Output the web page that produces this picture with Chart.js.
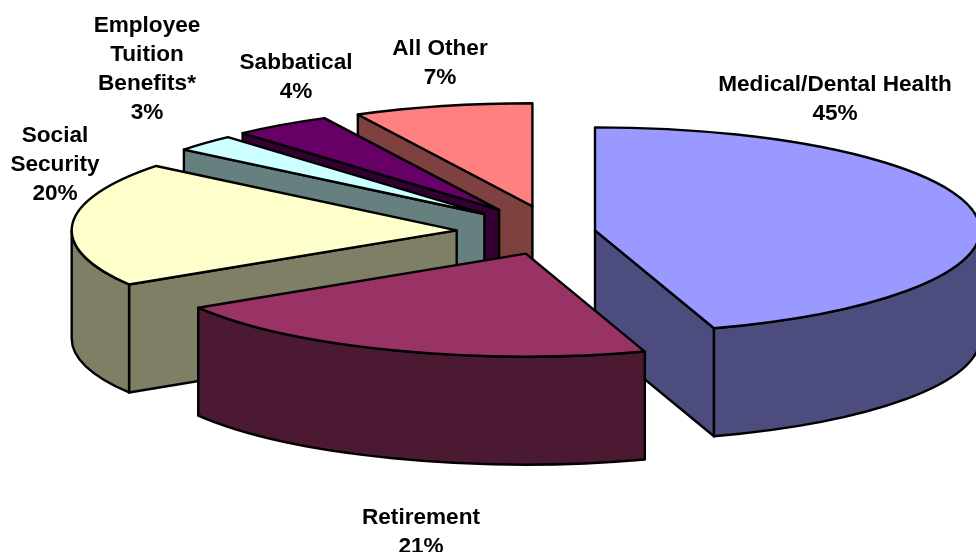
<!DOCTYPE html>
<html><head><meta charset="utf-8">
<script src="https://cdn.jsdelivr.net/npm/chart.js@4"></script>
<style>html,body{margin:0;padding:0;background:#fff}canvas{display:block}</style>
</head><body><canvas id="c" width="976" height="552"></canvas>
<script>
const categories = ["Medical/Dental Health","Retirement","Social Security","Employee Tuition Benefits*","Sabbatical","All Other"];
const shares = [45,21.2,19.55,2.65,4.11,7.49];
const sliceColors = ["#9999FF","#993366","#FFFFCC","#CCFFFF","#660066","#FF8080"];
const explosion = [40,86,99,98,100,99];
const paintOrder = [5,4,3,2,0,1];
const labelLines = [["Medical/Dental Health","45%"],["Retirement","21%"],["Social","Security","20%"],["Employee","Tuition","Benefits*","3%"],["Sabbatical","4%"],["All Other","7%"]];
const labelAnchors = [[835,85],[421,518],[55,136],[147,26],[296,63],[440,49]];
const FLAT_RADIUS = 103, WIDE_RADIUS = 385, WALL = 108, LINE_H = 29;
const sx = WIDE_RADIUS / FLAT_RADIUS;
const half = c => { const n = parseInt(c.slice(1),16); return `rgb(${(n>>16)>>1},${((n>>8)&255)>>1},${(n&255)>>1})`; };
const pie3d = {
  id:'pie3d',
  beforeDatasetsDraw(chart){
    const ctx = chart.ctx, arcs = chart.getDatasetMeta(0).data;
    ctx.save();
    ctx.lineJoin='round'; ctx.strokeStyle='#000'; ctx.lineWidth=2.4;
    const paint = fill => { ctx.fillStyle=fill; ctx.fill(); ctx.stroke(); };
    for(const i of paintOrder){
      const el = arcs[i];
      const {x,y,startAngle:a0,endAngle:a1,outerRadius:r} = el.getProps(['x','y','startAngle','endAngle','outerRadius'],true);
      const mid=(a0+a1)/2, d=explosion[i];
      const px=x+Math.cos(mid)*d, py=y+Math.sin(mid)*d/sx;
      const R=r*sx;
      const pt=a=>[px+Math.cos(a)*R, py+Math.sin(a)*r];
      const wall=half(sliceColors[i]);
      // radial faces, only those turned towards the viewer
      for(const [a,visible] of [[a0,Math.cos(a0)<0],[a1,Math.cos(a1)>0]]){
        if(!visible) continue;
        const [ex,ey]=pt(a);
        ctx.beginPath(); ctx.moveTo(px,py); ctx.lineTo(ex,ey); ctx.lineTo(ex,ey+WALL); ctx.lineTo(px,py+WALL); ctx.closePath();
        paint(wall);
      }
      // curved outer wall: the part of the rim on the viewer's side
      for(const k of [0,1]){
        const lo=Math.max(a0,k*2*Math.PI), hi=Math.min(a1,k*2*Math.PI+Math.PI);
        if(hi<=lo) continue;
        ctx.beginPath();
        ctx.ellipse(px,py,R,r,0,lo,hi);
        ctx.ellipse(px,py+WALL,R,r,0,hi,lo,true);
        ctx.closePath();
        paint(wall);
      }
      // top face: filled by the library's own arc element
      ctx.save();
      ctx.translate(px,py); ctx.scale(sx,1); ctx.translate(-x,-y);
      el.draw(ctx);
      ctx.restore();
      ctx.beginPath(); ctx.moveTo(px,py); ctx.ellipse(px,py,R,r,0,a0,a1); ctx.closePath(); ctx.stroke();
    }
    ctx.restore();
    return false;
  },
  afterDraw(chart){
    const ctx=chart.ctx;
    ctx.save();
    ctx.fillStyle='#000'; ctx.font='bold 22.6px "Liberation Sans", Arial, sans-serif';
    ctx.textAlign='center'; ctx.textBaseline='middle';
    labelLines.forEach((ls,i)=>ls.forEach((t,j)=>ctx.fillText(t,labelAnchors[i][0],labelAnchors[i][1]+j*LINE_H)));
    ctx.restore();
  }
};
new Chart(document.getElementById('c'),{
  type:'pie',
  plugins:[pie3d],
  data:{labels:categories,datasets:[{data:shares,backgroundColor:sliceColors,borderWidth:0}]},
  options:{
    responsive:false,animation:false,radius:FLAT_RADIUS,
    layout:{padding:{left:135,top:0,right:0,bottom:88}},
    plugins:{legend:{display:false},tooltip:{enabled:false},title:{display:false}}
  }
});
</script></body></html>
